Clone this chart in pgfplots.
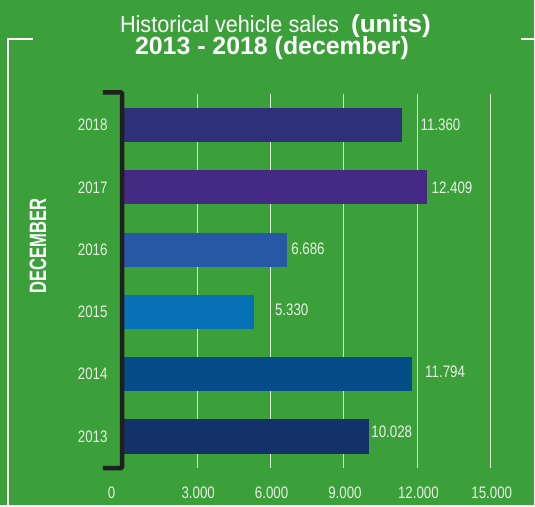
\documentclass[border=0pt]{standalone}
\usepackage{pgfplots}
\pgfplotsset{compat=1.18}
\usepackage{fontspec}
\setmainfont{Liberation Sans}
\newfontfamily\condfont[FakeStretch=0.8]{Liberation Sans}
\newfontfamily\narrowfont[FakeStretch=0.7]{Liberation Sans}
\newfontfamily\titlefont[FakeStretch=0.93]{Liberation Sans}
\newfontfamily\widebold[FakeStretch=1.06]{Liberation Sans}

\definecolor{bg}{RGB}{59,159,58}
\definecolor{lbl}{RGB}{232,240,228}
\definecolor{gridc}{RGB}{222,236,216}
\definecolor{c2018}{RGB}{46,48,120}
\definecolor{c2017}{RGB}{69,42,133}
\definecolor{c2016}{RGB}{38,88,165}
\definecolor{c2015}{RGB}{6,114,181}
\definecolor{c2014}{RGB}{5,77,136}
\definecolor{c2013}{RGB}{20,50,106}

\begin{document}
\begin{tikzpicture}
% background and frame, in pixel units (y down)
\begin{scope}[x=0.75pt,y=-0.75pt]
  \fill[bg] (0,0) rectangle (535,506);
  \draw[white, line width=1.5pt] (33,39) -- (8.3,39) -- (8.3,506);
  \draw[white, line width=1.5pt] (521.7,39) -- (535,39);
  \node[anchor=base west, inner sep=0pt, text=white] at (120,32.5)
    {\fontsize{17.5pt}{20pt}\titlefont Historical vehicle sales\hspace{9pt}\fontsize{18.5pt}{20pt}\widebold\bfseries (units)};
  \node[anchor=base west, inner sep=0pt, text=white] at (135,55)
    {\fontsize{18.7pt}{20pt}\selectfont\bfseries 2013 - 2018 (december)};
  \node[rotate=90, inner sep=0pt, text=white] at (38,246.3)
    {\fontsize{17.8pt}{20pt}\narrowfont\bfseries DECEMBER};
\end{scope}

\begin{axis}[
  at={(93pt,-351.375pt)}, anchor=south west,
  scale only axis, width=275.775pt, height=280.8pt,
  xmin=0, xmax=15000, ymin=-0.5, ymax=5.5,
  xbar, bar width=0.55, bar shift=0pt,
  axis line style={draw=none},
  major tick length=0pt,
  scaled x ticks=false,
  xtick={0,3000,6000,9000,12000,15000},
  xticklabels={\makebox[0pt]{\hspace*{-20pt}0},3.000,6.000,9.000,12.000,15.000},
  ytick={0,1,2,3,4,5},
  yticklabels={2013,2014,2015,2016,2017,2018},
  xmajorgrids,
  major grid style={gridc, line width=0.75pt},
  tick label style={font=\fontsize{12.5pt}{14pt}\condfont, text=lbl, inner sep=0pt},
  yticklabel style={anchor=east, xshift=-12pt},
  xticklabel style={anchor=north, yshift=-14pt, xshift=0.75pt},
  every node near coord/.append style={anchor=west, inner sep=0pt, text=lbl,
    font=\fontsize{12.5pt}{14pt}\condfont},
]
\addplot[fill=c2013, draw=none, nodes near coords={10.028},
  every node near coord/.append style={xshift=1.5pt, yshift=3.2pt}]
  coordinates {(10028,0)};
\addplot[fill=c2014, draw=none, nodes near coords={11.794},
  every node near coord/.append style={xshift=9.5pt, yshift=2pt}]
  coordinates {(11794,1)};
\addplot[fill=c2015, draw=none, nodes near coords={5.330},
  every node near coord/.append style={xshift=15.5pt, yshift=1.7pt}]
  coordinates {(5330,2)};
\addplot[fill=c2016, draw=none, nodes near coords={6.686},
  every node near coord/.append style={xshift=2.8pt, yshift=0.75pt}]
  coordinates {(6686,3)};
\addplot[fill=c2017, draw=none, nodes near coords={12.409},
  every node near coord/.append style={xshift=3pt}]
  coordinates {(12409,4)};
\addplot[fill=c2018, draw=none, nodes near coords={11.360},
  every node near coord/.append style={xshift=14pt}]
  coordinates {(11360,5)};
\end{axis}

\begin{scope}[x=0.75pt,y=-0.75pt]
  \draw[line width=3.4pt, color=black!88, rounded corners=1pt]
    (103,92.5) -- (122.3,92.5) -- (122.3,469) -- (103,469);
  \path[use as bounding box] (0,0) rectangle (535,506);
\end{scope}
\end{tikzpicture}
\end{document}
